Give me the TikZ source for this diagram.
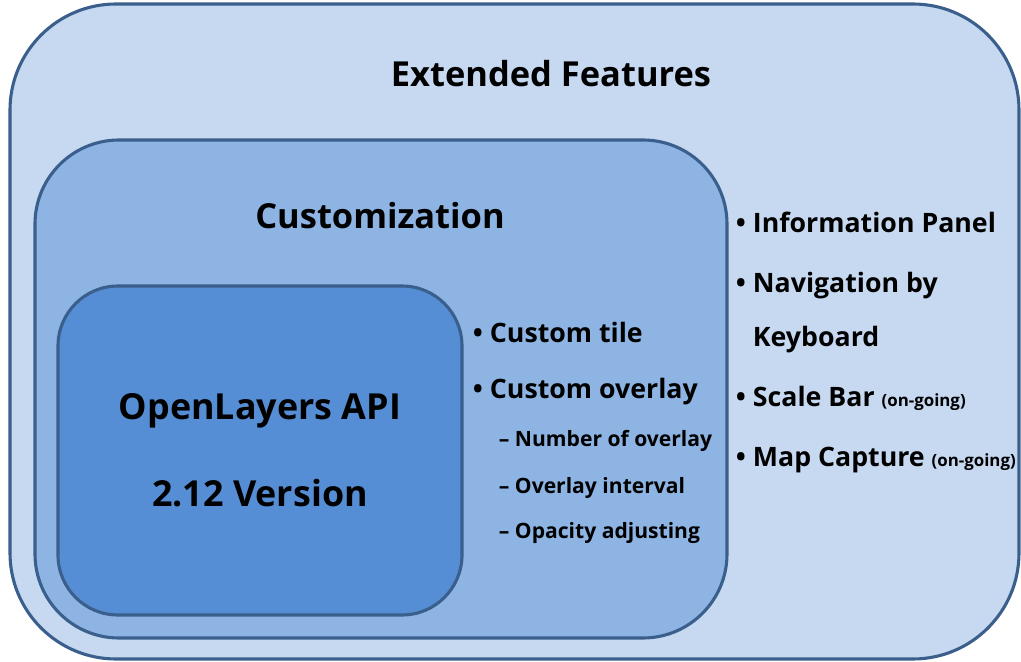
\documentclass[tikz,border=0pt]{standalone}
\usepackage{fontspec}
\setmainfont{Open Sans}
\newcommand{\ongoing}{{\fontsize{12}{14}\selectfont (on-going)}}
\begin{document}
\begin{tikzpicture}[x=0.025cm,y=-0.025cm]
	\tikzset{box/.style={draw=edgeblue, line width=2.2pt},
		big/.style={anchor=base, font=\fontsize{24.5}{28}\selectfont\bfseries},
		item/.style={anchor=base west, font=\fontsize{19}{22}\selectfont\bfseries},
		subitem/.style={anchor=base west, font=\fontsize{15}{18}\selectfont\bfseries}}
	\definecolor{edgeblue}{HTML}{3A5F8C}
	\definecolor{outerblue}{HTML}{C6D9F1}
	\definecolor{midblue}{HTML}{8EB4E3}
	\definecolor{innerblue}{HTML}{558ED5}
	\useasboundingbox (0,0) rectangle (1021,662);

	% nested boxes
	\draw[box, fill=outerblue, rounded corners=2.65cm] (10,4) rectangle (1019,659);
	\draw[box, fill=midblue, rounded corners=2.1cm] (35,140) rectangle (727,638);
	\draw[box, fill=innerblue, rounded corners=1.5cm] (58,286) rectangle (462,615);

	% titles
	\node[big] (ext) at (551,87) {Extended Features};
	\node[big] (cust) at (380,229) {Customization};
	\node[big, font=\fontsize{25.5}{30}\selectfont\bfseries] (api) at (260,420) {OpenLayers API};
	\node[big, font=\fontsize{25.5}{30}\selectfont\bfseries] (ver) at (260,506) {2.12 Version};

	% customization items
	\node[item] (tile) at (468,343) {\textbullet\ Custom tile};
	\node[item] (overlay) at (468,399) {\textbullet\ Custom overlay};
	\node[subitem] (num) at (494,447) {-- Number of overlay};
	\node[subitem] (intv) at (494,493) {-- Overlay interval};
	\node[subitem] (opac) at (494,538) {-- Opacity adjusting};

	% extended items
	\node[item] (info) at (731,233) {\textbullet\ Information Panel};
	\node[item] (navi) at (731,293) {\textbullet\ Navigation by};
	\node[item] (keyb) at (748,347) {Keyboard};
	\node[item] (scale) at (731,407) {\textbullet\ Scale Bar \ongoing};
	\node[item] (capt) at (731,467) {\textbullet\ Map Capture \ongoing};
\end{tikzpicture}
\end{document}
